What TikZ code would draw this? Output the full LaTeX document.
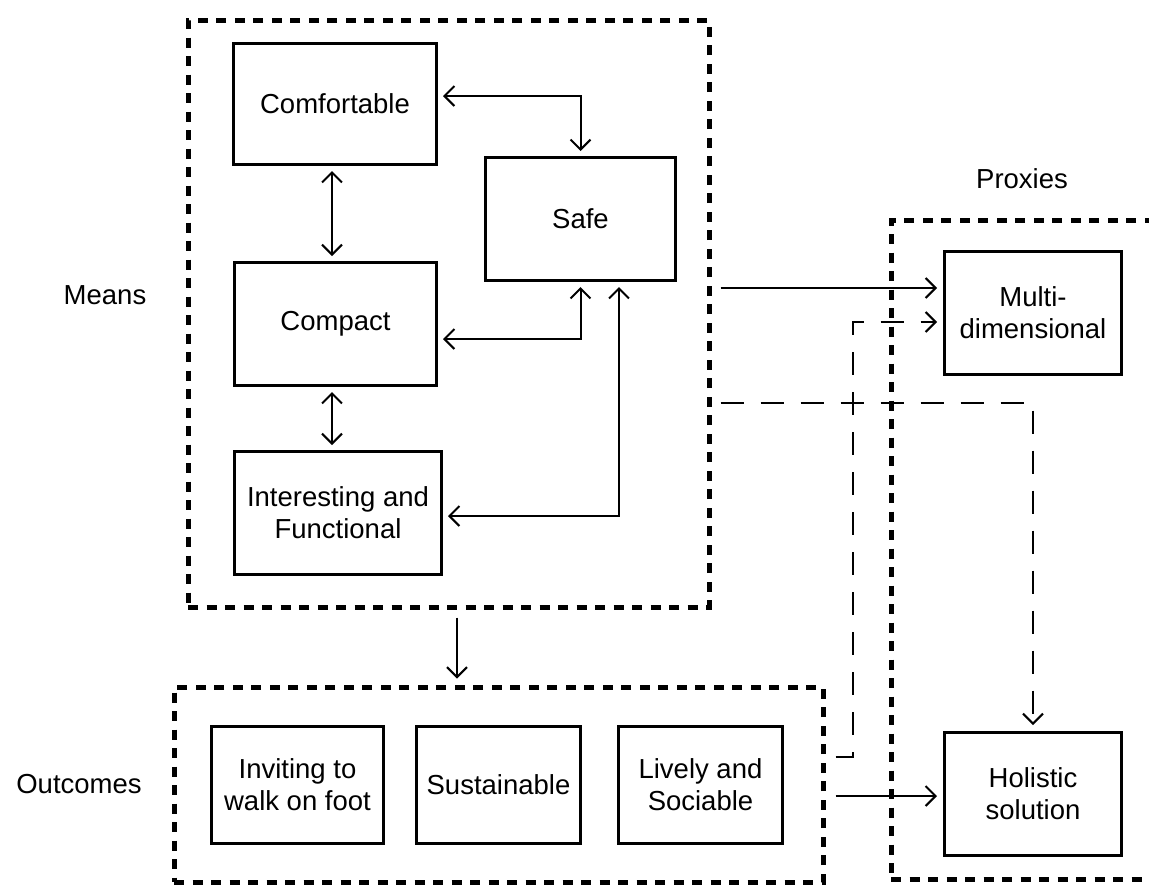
\documentclass[tikz,border=0pt]{standalone}
\usepackage{fontspec}
\setmainfont{Liberation Sans}
\usetikzlibrary{arrows.meta,calc}
\begin{document}
\begin{tikzpicture}[x=1pt,y=-1pt,
  box/.style={draw, line width=3pt, rectangle, inner sep=0pt, align=center, font=\fontsize{27.5}{32}\selectfont},
  grp/.style={draw, line width=5pt, dash pattern=on 10pt off 8.5pt, inner sep=0pt, rectangle},
  lbl/.style={font=\fontsize{27.5}{32}\selectfont},
  tip/.tip={Straight Barb[length=10pt,width=20pt,line width=2pt]},
  link/.style={line width=2pt, -tip, shorten >=6pt},
  biarrow/.style={line width=2pt, tip-tip, shorten <=5pt, shorten >=5pt},
  dlink/.style={link, dash pattern=on 23pt off 17pt}
]
\useasboundingbox (0,0) rectangle (1149,887);

% groups
\node[grp, minimum width=521pt, minimum height=587pt] (means) at (448.5,313.5) {};
\node[grp, minimum width=649pt, minimum height=195pt] (outcomes) at (498.5,784.5) {};
\node[grp, minimum width=274pt, minimum height=659pt] (proxies) at (1028,549.5) {};

% labels
\node[lbl] (meansl) at (105,295) {Means};
\node[lbl] (outl) at (79,784) {Outcomes};
\node[lbl] (proxl) at (1022,179) {Proxies};

% boxes
\node[box, minimum width=203pt, minimum height=121pt] (comf) at (335,104) {Comfortable};
\node[box, minimum width=190pt, minimum height=123pt] (safe) at (580.5,219) {Safe};
\node[box, minimum width=202pt, minimum height=123pt] (comp) at (335.5,324) {Compact};
\node[box, minimum width=207pt, minimum height=123pt] (inter) at (338,513) {Interesting and\\Functional};
\node[box, minimum width=177pt, minimum height=123pt] (multi) at (1033,313) {Multi-\\dimensional};
\node[box, minimum width=177pt, minimum height=123pt] (holi) at (1033,794) {Holistic\\solution};
\node[box, minimum width=172pt, minimum height=117pt] (invit) at (297.5,785) {Inviting to\\walk on foot};
\node[box, minimum width=164pt, minimum height=117pt] (sust) at (498.5,785) {Sustainable};
\node[box, minimum width=164pt, minimum height=117pt] (lively) at (700.5,785) {Lively and\\Sociable};

% inner connectors
\draw[biarrow] (comf.east |- 0,96) -- (safe.north |- 0,96) -- (safe.north);
\draw[biarrow] (comf.south -| 332,0) -- (comp.north -| 332,0);
\draw[biarrow] (comp.south -| 332,0) -- (inter.north -| 332,0);
\draw[biarrow] (comp.east |- 0,339) -- (safe.south |- 0,339) -- (safe.south);
\draw[biarrow] (inter.east |- 0,516) -- (619,516) -- (safe.south -| 619,0);

% outer connectors
\draw[link] ($(means.east |- 0,288)+(9,0)$) -- (multi.west |- 0,288);
\draw[dlink] ($(outcomes.east |- 0,757)+(10,0)$) -- (853,757) -- (853,322) -- (multi.west |- 0,322);
\draw[dlink] ($(means.east |- 0,403)+(9,0)$) -- (holi.north |- 0,403) -- (holi.north);
\draw[link] ($(outcomes.east |- 0,796)+(10,0)$) -- (holi.west |- 0,796);
\draw[link] ($(means.south -| 457,0)+(0,8)$) -- (outcomes.north -| 457,0);
\end{tikzpicture}
\end{document}
